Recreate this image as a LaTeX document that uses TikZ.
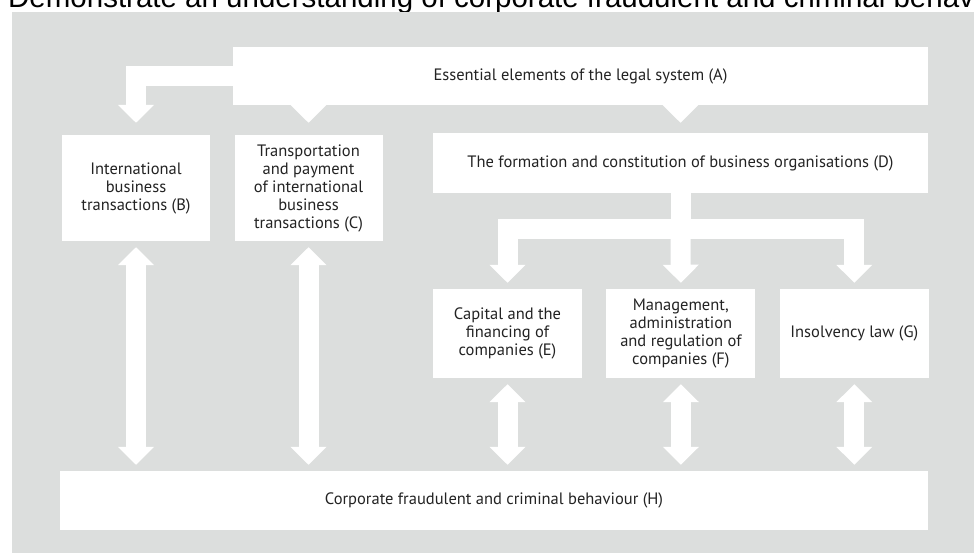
\documentclass[tikz,border=0pt]{standalone}
\usepackage{fontspec}
\setmainfont{PT Sans}
\newfontfamily\headfont{Liberation Sans}
\usetikzlibrary{arrows.meta,positioning}

\definecolor{panelgray}{RGB}{220,222,221}
\definecolor{inkgray}{RGB}{35,35,35}

\begin{document}
\begin{tikzpicture}[
        x=1pt, y=-1pt,
        box/.style={rectangle, fill=white, inner sep=0pt, align=center, text=inkgray, font=\fontsize{16.5}{18}\selectfont},
        widebox/.style={box, minimum width=495pt, minimum height=60pt},
        smallbox/.style={box, minimum width=149pt, minimum height=89pt},
        tallbox/.style={box, minimum width=148pt, minimum height=106pt},
        fat/.style={draw=white, line width=20pt, line join=miter, -{Triangle[width=35pt,length=18pt]}},
        fatboth/.style={fat, {Triangle[width=35pt,length=18pt]}-{Triangle[width=35pt,length=18pt]}, shorten <=6pt, shorten >=6pt}
    ]
        \useasboundingbox (0,0) rectangle (974,553);
        \clip (0,0) rectangle (974,553);

        % Heading (runs off the page)
        \node[anchor=base west, inner sep=0pt, font=\headfont\fontsize{29.5}{32}\selectfont] (heading) at (8,8)
            {Demonstrate an understanding of corporate fraudulent and criminal behaviour};

        % Grey panel
        \fill[panelgray] (12,12) rectangle (974,553);

        % Legal system
        \node[box, minimum width=695pt, minimum height=58pt] (A) at (580.5,76) {Essential elements of the legal system (A)};
        \coordinate (Acut) at ([yshift=4pt]A.south);

        % Transactions
        \node[tallbox] (B) at (136,188) {International\\business\\transactions (B)};
        \node[tallbox] (C) at (308.5,188) {Transportation\\and payment\\of international\\business\\transactions (C)};

        % Business organisations
        \node[widebox] (D) at (680.5,163) {The formation and constitution of business organisations (D)};
        \node[smallbox] (E) at (507.5,333.5) {Capital and the\\financing of\\companies (E)};
        \node[smallbox, right=24pt of E] (F) {Management,\\administration\\and regulation of\\companies (F)};
        \node[smallbox, right=24pt of F] (G) {Insolvency law (G)};

        % Corporate crime
        \node[box, minimum width=868pt, minimum height=59pt] (H) at (494,500.5) {Corporate fraudulent and criminal behaviour (H)};

        % Arrows out of A
        \draw[fat, shorten >=12pt] (A.west) -| (B.north);
        \draw[fat, shorten >=12pt] (C.north |- Acut) -- (C.north);
        \draw[fat, shorten >=10pt] (D.north |- Acut) -- (D.north);

        % Arrows out of D
        \coordinate (split) at ([yshift=-36pt]D.south);
        \draw[fat, -] ([yshift=4pt]D.south) -- (split);
        \draw[fat, shorten >=6pt] (split) -| (E.north);
        \draw[fat, shorten >=6pt] (split) -- (F.north);
        \draw[fat, shorten >=6pt] (split) -| (G.north);

        % Links with H
        \draw[fatboth] (B.south) -- (B.south |- H.north);
        \draw[fatboth] (C.south) -- (C.south |- H.north);
        \draw[fatboth] (E.south) -- (E.south |- H.north);
        \draw[fatboth] (F.south) -- (F.south |- H.north);
        \draw[fatboth] (G.south) -- (G.south |- H.north);

    \end{tikzpicture}
\end{document}
